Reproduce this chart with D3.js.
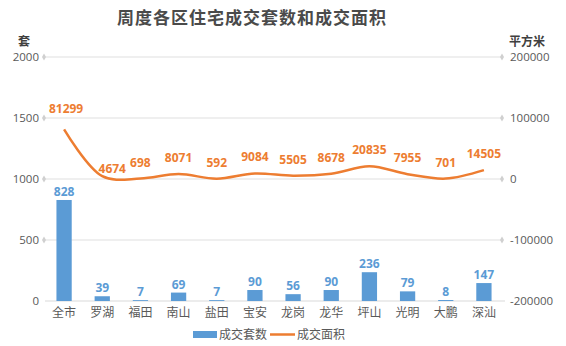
<!DOCTYPE html>
<html><head><meta charset="utf-8">
<script src="https://cdn.jsdelivr.net/npm/d3@7/dist/d3.min.js"></script>
<style>body{margin:0;background:#fff}svg{display:block}text{font-family:"Noto Sans CJK SC","Noto Sans",sans-serif}</style>
</head><body><svg id="c" width="566" height="346"></svg>
<script>
const categories = ["全市","罗湖","福田","南山","盐田","宝安","龙岗","龙华","坪山","光明","大鹏","深汕"];
const counts = [828,39,7,69,7,90,56,90,236,79,8,147];
const areas = [81299,4674,698,8071,592,9084,5505,8678,20835,7955,701,14505];
const leftTicks = [0,500,1000,1500,2000];
const rightTicks = [-200000,-100000,0,100000,200000];
const title = "周度各区住宅成交套数和成交面积";
const seriesNames = ["成交套数","成交面积"];

const svg = d3.select("#c");
const x0=45,x1=503,yTop=57,yBot=301;
const x = d3.scaleBand().domain(categories).range([x0,x1]).paddingInner(0.6).paddingOuter(0.3);
const yL = d3.scaleLinear().domain([0,2000]).range([yBot,yTop]);
const yR = d3.scaleLinear().domain([-200000,200000]).range([yBot,yTop]);
const blue="#5b9bd5", orange="#ed7d31", grid="#e0e0e0", txt="#595959";
const fmt = d => String(d);

svg.append("text").attr("x",252).attr("y",24).attr("text-anchor","middle")
  .attr("font-size",17).attr("font-weight","bold").attr("fill","#4a4a4a")
  .attr("letter-spacing",1).text(title);

// grid
const g = svg.append("g");
leftTicks.forEach(t=>{
  if(t===0) return;
  g.append("line").attr("x1",x0-1).attr("x2",x1-1).attr("y1",yL(t)).attr("y2",yL(t)).attr("stroke",grid).attr("stroke-width",1.2);
  [x0-1,x1-1].forEach(px=>g.append("path").attr("d",d3.symbol(d3.symbolDiamond,14)()).attr("transform",`translate(${px},${yL(t)})`).attr("fill","#d0d0d0"));
});
g.append("line").attr("x1",x0).attr("x2",x1+2).attr("y1",yBot).attr("y2",yBot).attr("stroke","#d9d9d9").attr("stroke-width",1);

// axes labels
const axL = svg.append("g").attr("transform",`translate(${x0-6},0)`).call(d3.axisLeft(yL).tickValues(leftTicks).tickFormat(fmt).tickSize(0).tickPadding(0));
axL.select(".domain").remove();
axL.selectAll("text").attr("font-size",11.5).attr("fill",txt).style("font-family","'Open Sans','Noto Sans',sans-serif");
const axR = svg.append("g").attr("transform",`translate(${x1+7},0)`).call(d3.axisRight(yR).tickValues(rightTicks).tickFormat(fmt).tickSize(0).tickPadding(0));
axR.select(".domain").remove();
axR.selectAll("text").attr("font-size",11.5).attr("fill",txt).style("font-family","'Open Sans','Noto Sans',sans-serif");
const axB = svg.append("g").attr("transform",`translate(0,${yBot})`).call(d3.axisBottom(x).tickSize(0).tickPadding(7));
axB.select(".domain").remove();
axB.selectAll("text").attr("font-size",12).attr("fill",txt);

svg.append("text").attr("x",24).attr("y",46).attr("text-anchor","middle").attr("font-size",12).attr("font-weight","bold").attr("fill","#404040").text("套");
svg.append("text").attr("x",527).attr("y",46).attr("text-anchor","middle").attr("font-size",12).attr("font-weight","bold").attr("fill","#404040").text("平方米");

// bars
svg.append("g").selectAll("rect").data(counts).join("rect")
  .attr("x",(d,i)=>x(categories[i])).attr("width",x.bandwidth())
  .attr("y",d=>yL(d)).attr("height",d=>yBot-yL(d)).attr("fill",blue);
svg.append("g").selectAll("text").data(counts).join("text")
  .attr("x",(d,i)=>x(categories[i])+x.bandwidth()/2).attr("y",d=>yL(d)-4)
  .attr("text-anchor","middle").attr("font-size",12).attr("font-weight","bold").attr("fill",blue)
  .style("font-family","'Open Sans','Noto Sans',sans-serif").text(d=>d);

// line
const cx = i=>x(categories[i])+x.bandwidth()/2;
const line = d3.line().x((d,i)=>cx(i)).y(d=>yR(d)).curve(d3.curveCatmullRom.alpha(0.5));
svg.append("path").attr("d",line(areas)).attr("fill","none").attr("stroke",orange).attr("stroke-width",2.5);
const nudge = {0:[2,-4],1:[10,9]};
svg.append("g").selectAll("text").data(areas).join("text")
  .attr("x",(d,i)=>cx(i)+(nudge[i]?nudge[i][0]:0))
  .attr("y",(d,i)=>yR(d)-12+(nudge[i]?nudge[i][1]:0))
  .attr("text-anchor","middle").attr("font-size",12).attr("font-weight","bold").attr("fill",orange)
  .style("font-family","'Open Sans','Noto Sans',sans-serif").text(d=>d);

// legend
const lg = svg.append("g");
lg.append("rect").attr("x",193).attr("y",331).attr("width",24).attr("height",7).attr("fill",blue);
lg.append("text").attr("x",219).attr("y",339).attr("font-size",12).attr("fill",txt).text(seriesNames[0]);
lg.append("line").attr("x1",270).attr("x2",295).attr("y1",334.5).attr("y2",334.5).attr("stroke",orange).attr("stroke-width",2.5);
lg.append("text").attr("x",297).attr("y",339).attr("font-size",12).attr("fill",txt).text(seriesNames[1]);
</script></body></html>
